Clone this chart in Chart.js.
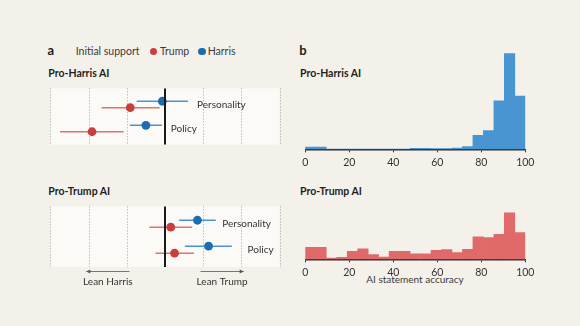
<!DOCTYPE html>
<html>
<head>
<meta charset="utf-8">
<script src="https://cdn.jsdelivr.net/npm/chart.js@4.4.1/dist/chart.umd.min.js"></script>
<style>
  html, body { margin: 0; padding: 0; }
  body { width: 580px; height: 326px; background: #f4f1ea; position: relative; overflow: hidden;
         font-family: Lato, sans-serif; color: #333; }
  .t { position: absolute; white-space: nowrap; line-height: 1; }
  .big { font-weight: 700; font-size: 13px; color: #1e1e1e; }
  .sub { font-weight: 700; font-size: 10.5px; color: #1e1e1e; }
  .reg { font-size: 10.5px; color: #3a3a3a; }
  .dot { position: absolute; width: 7.6px; height: 7.6px; border-radius: 50%; }
  canvas { position: absolute; }
</style>
</head>
<body>
<div class="t big" style="left:47.5px;top:43.5px">a</div>
<div class="t reg" style="left:75.7px;top:45.7px">Initial support</div>
<div class="dot" style="left:149.5px;top:47.9px;background:#c7403e"></div>
<div class="t reg" style="left:160px;top:45.7px">Trump</div>
<div class="dot" style="left:198.2px;top:47.9px;background:#1b6cb1"></div>
<div class="t reg" style="left:207.7px;top:45.7px">Harris</div>
<div class="t big" style="left:299.3px;top:43.5px">b</div>

<div class="t sub" style="left:48.3px;top:68.4px">Pro-Harris AI</div>
<div class="t sub" style="left:48.3px;top:185.8px">Pro-Trump AI</div>
<div class="t sub" style="left:300px;top:68.4px">Pro-Harris AI</div>
<div class="t sub" style="left:300px;top:185.8px">Pro-Trump AI</div>
<div class="t reg" style="left:415px;top:274.4px;transform:translateX(-50%);font-size:10px">AI statement accuracy</div>

<canvas id="forestHarris" width="238" height="65" style="left:46px;top:84px"></canvas>
<canvas id="forestTrump" width="238" height="87" style="left:46px;top:202px"></canvas>
<canvas id="histHarris" width="250" height="130" style="left:290px;top:40px"></canvas>
<canvas id="histTrump" width="250" height="130" style="left:290px;top:150.3px"></canvas>

<script>
// panel a: shift in candidate lean (negative = toward Harris), by initial support
const measures = ['Personality', 'Policy'];

const proHarrisTrumpEst  = [-0.91, -1.91];
const proHarrisTrumpLow  = [-1.66, -2.75];
const proHarrisTrumpHigh = [-0.14, -1.08];
const proHarrisHarrisEst  = [-0.07, -0.50];
const proHarrisHarrisLow  = [-0.74, -0.92];
const proHarrisHarrisHigh = [0.60, -0.08];

const proTrumpTrumpEst  = [0.15, 0.25];
const proTrumpTrumpLow  = [-0.41, -0.25];
const proTrumpTrumpHigh = [0.71, 0.76];
const proTrumpHarrisEst  = [0.85, 1.14];
const proTrumpHarrisLow  = [0.37, 0.52];
const proTrumpHarrisHigh = [1.33, 1.75];

const leanTicks = [-3, -2, -1, 0, 1, 2, 3];

// panel b: histogram of AI statement accuracy (21 bins)
const binStarts = [0, 4.8, 9.5, 14.3, 19, 23.8, 28.6, 33.3, 38.1, 42.9, 47.6,
                   52.4, 57.1, 61.9, 66.7, 71.4, 76.2, 81, 85.7, 90.5, 95.2];
const proHarrisCounts = [7, 7, 1, 1, 1, 1, 1, 1, 1, 1, 3, 3, 2, 2, 4, 8, 42, 56, 145, 286, 159];
const proTrumpCounts  = [36, 36, 4, 6, 24, 31, 14, 7, 24, 24, 16, 16, 27, 29, 20, 30, 67, 65, 75, 139, 80];
const accuracyTicks = [0, 20, 40, 60, 80, 100];

const RED_DOT = '#c7403e', RED_LINE = '#e07370';
const BLUE_DOT = '#1b6cb1', BLUE_LINE = '#4a92d0';
const HIST_BLUE = '#4895d2', HIST_RED = '#e06a69';

// row positions on the y scale: harris supporters above trump supporters
const rowHarris = [0, 3.75];
const rowTrump = [1, 4.75];

const forestPlugin = {
  id: 'forest',
  beforeDatasetsDraw(chart, args, opts) {
    const {ctx, chartArea: a, scales: {x, y}} = chart;
    ctx.save();
    ctx.fillStyle = '#fbfaf7';
    ctx.fillRect(a.left, a.top, a.width, a.height);
    ctx.strokeStyle = '#a3a09a';
    ctx.lineWidth = 1;
    ctx.setLineDash([1, 2]);
    x.ticks.forEach(t => {
      if (t.value === 0) return;
      const px = Math.round(x.getPixelForValue(t.value)) + 0.5;
      ctx.beginPath();
      ctx.moveTo(px, a.top);
      ctx.lineTo(px, a.bottom);
      ctx.stroke();
    });
    ctx.setLineDash([]);
    ctx.lineWidth = 1.5;
    opts.bars.forEach(g => {
      ctx.strokeStyle = g.color;
      g.low.forEach((lo, i) => {
        const py = y.getPixelForValue(g.rows[i]);
        ctx.beginPath();
        ctx.moveTo(x.getPixelForValue(lo), py);
        ctx.lineTo(x.getPixelForValue(g.high[i]), py);
        ctx.stroke();
      });
    });
    ctx.restore();
  },
  afterDatasetsDraw(chart, args, opts) {
    const {ctx, chartArea: a, scales: {x, y}} = chart;
    ctx.save();
    ctx.strokeStyle = '#1a1a1a';
    ctx.lineWidth = 2;
    const zx = x.getPixelForValue(0);
    ctx.beginPath();
    ctx.moveTo(zx, a.top);
    ctx.lineTo(zx, a.bottom);
    ctx.stroke();

    ctx.font = '10px Lato';
    ctx.fillStyle = '#333';
    ctx.textBaseline = 'middle';
    measures.forEach((m, i) => {
      const py = (y.getPixelForValue(rowHarris[i]) + y.getPixelForValue(rowTrump[i])) / 2;
      ctx.fillText(m, x.getPixelForValue(opts.labelX[i]), py);
    });

    (opts.arrows || []).forEach(ar => {
      const y0 = a.bottom + 4.5;
      const x0 = x.getPixelForValue(ar.from), x1 = x.getPixelForValue(ar.to);
      const dir = Math.sign(x1 - x0);
      ctx.strokeStyle = '#555';
      ctx.fillStyle = '#555';
      ctx.lineWidth = 0.8;
      ctx.beginPath();
      ctx.moveTo(x0, y0);
      ctx.lineTo(x1, y0);
      ctx.stroke();
      ctx.beginPath();
      ctx.moveTo(x1, y0);
      ctx.lineTo(x1 - dir * 4, y0 - 2);
      ctx.lineTo(x1 - dir * 4, y0 + 2);
      ctx.closePath();
      ctx.fill();
      ctx.fillStyle = '#333';
      ctx.textAlign = 'center';
      ctx.textBaseline = 'alphabetic';
      ctx.fillText(ar.label, (x0 + x1) / 2, a.bottom + 17.5);
    });
    ctx.restore();
  }
};

function forest(id, trumpEst, trumpLow, trumpHigh, harrisEst, harrisLow, harrisHigh, labelX, arrows, padBottom) {
  new Chart(document.getElementById(id), {
    type: 'scatter',
    data: {
      datasets: [
        { data: trumpEst.map((v, i) => ({x: v, y: rowTrump[i]})), backgroundColor: RED_DOT,
          pointRadius: 4.4, borderWidth: 0 },
        { data: harrisEst.map((v, i) => ({x: v, y: rowHarris[i]})), backgroundColor: BLUE_DOT,
          pointRadius: 4.4, borderWidth: 0 }
      ]
    },
    plugins: [forestPlugin],
    options: {
      responsive: false,
      animation: false,
      events: [],
      clip: false,
      layout: { padding: { left: 1, right: 1, top: 0, bottom: padBottom } },
      plugins: {
        legend: { display: false },
        tooltip: { enabled: false },
        forest: {
          bars: [
            { color: RED_LINE, low: trumpLow, high: trumpHigh, rows: rowTrump },
            { color: BLUE_LINE, low: harrisLow, high: harrisHigh, rows: rowHarris }
          ],
          labelX: labelX,
          arrows: arrows
        }
      },
      scales: {
        x: { display: false, min: -3, max: 3,
             afterBuildTicks: s => { s.ticks = leanTicks.map(v => ({value: v})); } },
        y: { display: false, min: -2, max: 6.75, reverse: true }
      }
    }
  });
}

forest('forestHarris', proHarrisTrumpEst, proHarrisTrumpLow, proHarrisTrumpHigh,
       proHarrisHarrisEst, proHarrisHarrisLow, proHarrisHarrisHigh, [0.84, 0.15], [], 0);
forest('forestTrump', proTrumpTrumpEst, proTrumpTrumpLow, proTrumpTrumpHigh,
       proTrumpHarrisEst, proTrumpHarrisLow, proTrumpHarrisHigh, [1.5, 2.16],
       [{from: -0.93, to: -2.06, label: 'Lean Harris'}, {from: 0.93, to: 2.06, label: 'Lean Trump'}], 22);

function histogram(id, counts, color) {
  new Chart(document.getElementById(id), {
    type: 'bar',
    data: {
      labels: binStarts,
      datasets: [{ data: counts, backgroundColor: color, barPercentage: 1, categoryPercentage: 1, borderWidth: 0 }]
    },
    options: {
      responsive: false,
      animation: false,
      events: [],
      layout: { padding: { left: 15.3, right: 14.7, top: 9, bottom: 0.7 } },
      plugins: { legend: { display: false }, tooltip: { enabled: false } },
      scales: {
        x: { display: false, offset: true },
        y: { display: false, min: 0, max: 300 },
        x2: {
          type: 'linear', position: 'bottom', min: 0, max: 100, offset: false,
          afterBuildTicks: s => { s.ticks = accuracyTicks.map(v => ({value: v})); },
          afterFit: s => { s.height = 20; },
          grid: { drawOnChartArea: false, offset: false, tickLength: 3, color: '#2a2a2a', lineWidth: 1 },
          border: { color: '#2a2a2a', width: 1.6 },
          ticks: { color: '#333', font: { family: 'Lato', size: 10.5 }, padding: 4, maxRotation: 0 }
        }
      }
    }
  });
}

histogram('histHarris', proHarrisCounts, HIST_BLUE);
histogram('histTrump', proTrumpCounts, HIST_RED);
</script>
</body>
</html>
